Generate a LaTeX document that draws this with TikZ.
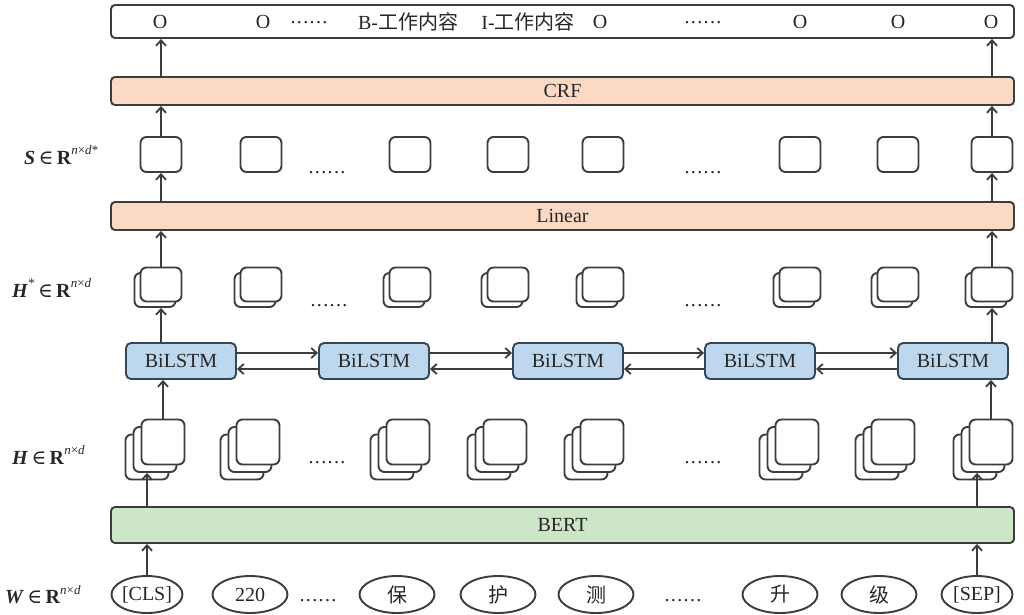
\documentclass[tikz,border=0pt]{standalone}
\usepackage{fontspec}
\setmainfont{Liberation Serif}
\newfontfamily\cjk{Noto Sans CJK SC}
\newfontfamily\symf{DejaVu Serif}
\usetikzlibrary{arrows.meta,shapes.geometric}
\definecolor{lc}{RGB}{60,60,60}
\definecolor{peach}{RGB}{252,217,196}
\definecolor{blueF}{RGB}{189,215,238}
\definecolor{blueD}{RGB}{52,70,88}
\definecolor{greenF}{RGB}{205,230,199}
\newcommand{\sixdots}{.\kern1.4pt.\kern1.4pt.\kern1.4pt.\kern1.4pt.\kern1.4pt.}
\newcommand{\elin}{\,{\symf\char"2208}\,}
\newcommand{\supr}[1]{\raisebox{1.0ex}{\fontsize{13}{13}\selectfont #1}}
\begin{document}
\begin{tikzpicture}[x=1pt,y=-1pt,
  every node/.style={font=\fontsize{20}{22}\selectfont, text=black!85},
  bar/.style={draw=lc, line width=1.9pt, rounded corners=4pt, minimum width=903pt, inner sep=0pt},
  lstm/.style={draw=blueD, fill=blueF, line width=1.9pt, rounded corners=5pt, minimum width=110pt, minimum height=36pt, inner sep=0pt},
  ssq/.style={draw=lc, fill=white, line width=1.9pt, rounded corners=6pt, minimum width=41pt, minimum height=35pt, inner sep=0pt},
  hsq/.style={draw=lc, fill=white, line width=1.9pt, rounded corners=6pt, minimum width=41pt, minimum height=34pt, inner sep=0pt},
  hhq/.style={draw=lc, fill=white, line width=1.9pt, rounded corners=6pt, minimum width=43pt, minimum height=45pt, inner sep=0pt},
  tok/.style={ellipse, draw=lc, line width=1.9pt, minimum width=75pt, minimum height=37pt, inner sep=0pt},
  arr/.style={draw=lc, line width=1.9pt, -{Straight Barb[length=5.5pt,width=10pt,line width=1.8pt]}},
  lab/.style={anchor=west, inner sep=0pt, font=\fontsize{20}{22}\selectfont},
  dts/.style={inner sep=0pt, anchor=base},
]
\useasboundingbox (0,0) rectangle (1024,614);

% bars
\node[bar, fill=white, minimum height=33pt] (out) at (562.5,21.5) {};
\node[bar, fill=peach, minimum height=28pt] (crf) at (562.5,91) {CRF};
\node[bar, fill=peach, minimum height=28pt] (lin) at (562.5,216) {Linear};
\node[bar, fill=greenF, minimum height=36pt] (bert) at (562.5,525) {BERT};

% output labels
\node (o1) at (160,21.5) {O};
\node (o2) at (263,21.5) {O};
\node[dts] (od1) at (309,23) {\sixdots};
\node (ob) at (408,21.5) {B-{\cjk 工作内容}};
\node (oi) at (528,21.5) {I-{\cjk 工作内容}};
\node (o3) at (600,21.5) {O};
\node[dts] (od2) at (703,23) {\sixdots};
\node (o4) at (800,21.5) {O};
\node (o5) at (898,21.5) {O};
\node (o6) at (991,21.5) {O};

% S row
\foreach \x [count=\i] in {161,261,410,508,603,800,898,992}
  \node[ssq] (s\i) at (\x,154.5) {};
\node[dts] (sd1) at (327,173) {\sixdots};
\node[dts] (sd2) at (703,173) {\sixdots};

% H* row
\foreach \x [count=\i] in {161,261,410,508,603,800,898,992}{
  \node[hsq] (hsb\i) at (\x-6,290) {};
  \node[hsq] (hs\i) at (\x,284.5) {};
}
\node[dts] (hsd1) at (329,306) {\sixdots};
\node[dts] (hsd2) at (703,306) {\sixdots};

% BiLSTM
\foreach \x [count=\i] in {181,374,568,760,953}
  \node[lstm] (b\i) at (\x,361) {BiLSTM};
\foreach \i/\j in {1/2,2/3,3/4,4/5}{
  \draw[arr] ([yshift=8pt]b\i.east) -- ([yshift=8pt]b\j.west);
  \draw[arr] ([yshift=-8pt]b\j.west) -- ([yshift=-8pt]b\i.east);
}

% H row
\foreach \x [count=\i] in {163,258,408,505,602,797,893,991}{
  \node[hhq] (hb\i) at (\x-16,457) {};
  \node[hhq] (hm\i) at (\x-8,449.5) {};
  \node[hhq] (h\i) at (\x,442) {};
}
\node[dts] (hd1) at (327,463) {\sixdots};
\node[dts] (hd2) at (703,463) {\sixdots};

% tokens
\node[tok, minimum width=71pt] (cls) at (147,594.5) {[CLS]};
\node[tok] (t220) at (250,594.5) {220};
\node[dts] (td1) at (318,601) {\sixdots};
\node[tok] (bao) at (397,594.5) {\cjk 保};
\node[tok] (hu) at (498,594.5) {\cjk 护};
\node[tok] (ce) at (596,594.5) {\cjk 测};
\node[dts] (td2) at (683,601) {\sixdots};
\node[tok] (sheng) at (780,594.5) {\cjk 升};
\node[tok] (ji) at (879,594.5) {\cjk 级};
\node[tok, minimum width=71pt] (sep) at (977,594.5) {[SEP]};

% left labels
\node[lab] (lS) at (24,155) {\textbf{\textit{S}}\elin\textbf{R}\supr{\textit{n}×\textit{d}*}};
\node[lab] (lHs) at (12,288) {\textbf{\textit{H}}\supr{*}\elin\textbf{R}\supr{\textit{n}×\textit{d}}};
\node[lab] (lH) at (12,455) {\textbf{\textit{H}}\elin\textbf{R}\supr{\textit{n}×\textit{d}}};
\node[lab] (lW) at (5,595) {\textbf{\textit{W}}\elin\textbf{R}\supr{\textit{n}×\textit{d}}};

% vertical arrows, left column
\draw[arr] (cls.north) -- (cls.north |- bert.south);
\draw[arr] (cls.north |- bert.north) -- (cls.north |- hm1.south);
\draw[arr] (h1.north) -- (h1.north |- b1.south);
\draw[arr] (hs1.south |- b1.north) -- (hs1.south |- hsb1.south);
\draw[arr] (hs1.north) -- (hs1.north |- lin.south);
\draw[arr] (hs1.north |- lin.north) -- (s1.south);
\draw[arr] (s1.north) -- (s1.north |- crf.south);
\draw[arr] (s1.north |- crf.north) -- (s1.north |- out.south);

% vertical arrows, right column
\draw[arr] (sep.north) -- (sep.north |- bert.south);
\draw[arr] (sep.north |- bert.north) -- (sep.north |- hm8.south);
\draw[arr] (h8.north) -- (h8.north |- b5.south);
\draw[arr] (hs8.south |- b5.north) -- (hs8.south |- hsb8.south);
\draw[arr] (hs8.north) -- (hs8.north |- lin.south);
\draw[arr] (hs8.north |- lin.north) -- (s8.south);
\draw[arr] (s8.north) -- (s8.north |- crf.south);
\draw[arr] (s8.north |- crf.north) -- (s8.north |- out.south);
\end{tikzpicture}
\end{document}
